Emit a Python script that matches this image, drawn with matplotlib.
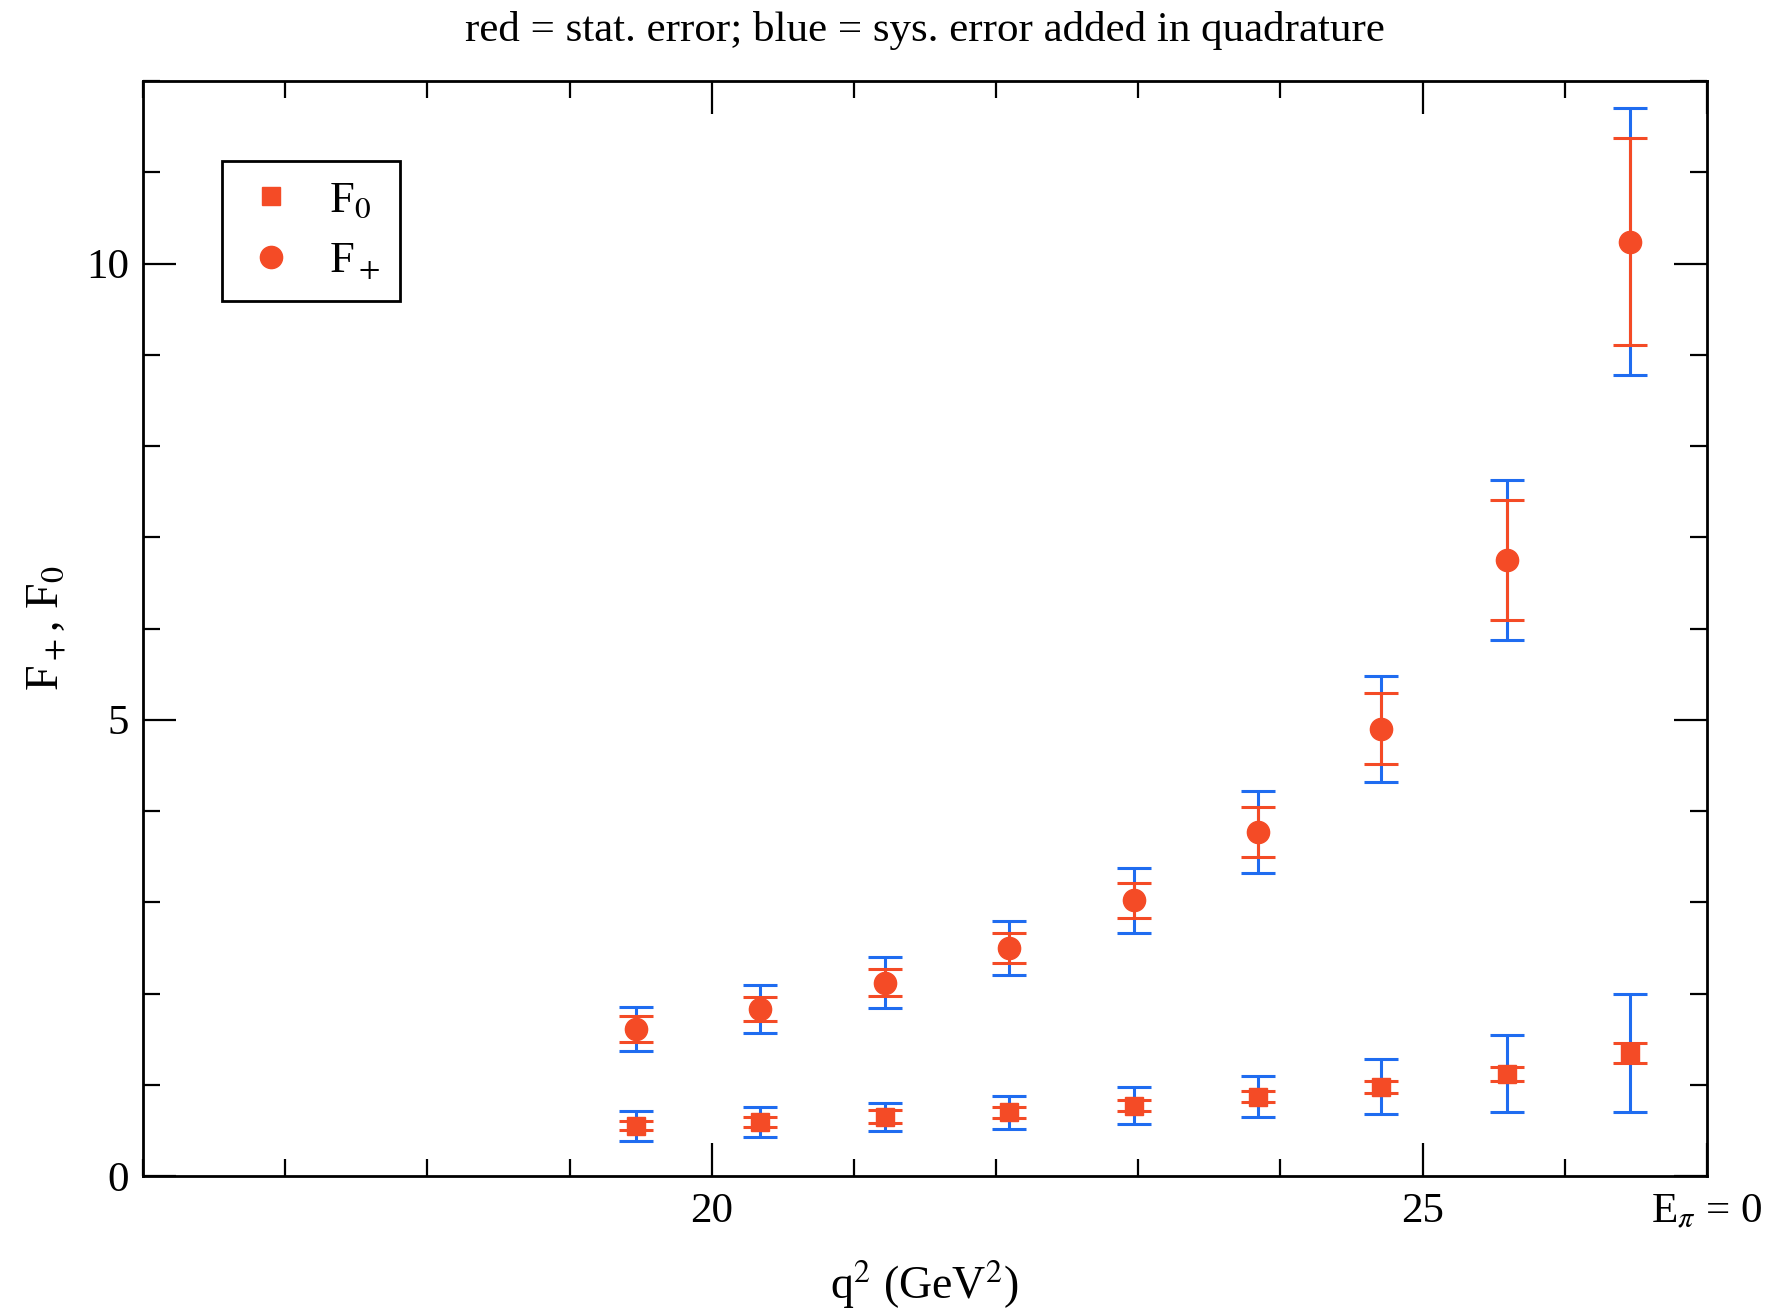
import numpy as np
import matplotlib
matplotlib.use('Agg')
from matplotlib import pyplot as plt
from matplotlib.ticker import FixedLocator, MultipleLocator

plt.rcParams['font.family'] = ['Liberation Serif', 'DejaVu Serif']
plt.rcParams['mathtext.fontset'] = 'stix'

# q^2 positions and form factor values
q2 = [19.47, 20.34, 21.22, 22.09, 22.97, 23.84, 24.71, 25.59, 26.46]
fplus = [1.61, 1.83, 2.12, 2.50, 3.02, 3.77, 4.90, 6.75, 10.24]
fplus_stat = [0.14, 0.135, 0.15, 0.165, 0.19, 0.27, 0.39, 0.66, 1.13]
fplus_tot = [0.24, 0.26, 0.28, 0.30, 0.36, 0.45, 0.58, 0.88, 1.46]
f0 = [0.55, 0.59, 0.65, 0.70, 0.77, 0.87, 0.98, 1.12, 1.35]
f0_stat = [0.05, 0.055, 0.07, 0.06, 0.06, 0.06, 0.065, 0.075, 0.11]
f0_tot = [0.165, 0.165, 0.155, 0.18, 0.20, 0.225, 0.30, 0.42, 0.65]

xtick_vals = [20, 25, 27]
xtick_labels = ['20', '25', r'E$_{\pi}$ = 0']

red = '#f44b26'
blue = '#1f6cf0'

fig = plt.figure(figsize=(17.7, 13.12), dpi=100)
ax = fig.add_axes([143/1770, 1 - 1176/1312, (1707-143)/1770, (1176-81)/1312])

# blue: total error (behind), red: stat error + markers
ax.errorbar(q2, fplus, yerr=fplus_tot, fmt='none', ecolor=blue, elinewidth=2.2,
            capsize=12, capthick=2.2, zorder=2)
ax.errorbar(q2, f0, yerr=f0_tot, fmt='none', ecolor=blue, elinewidth=2.2,
            capsize=12, capthick=2.2, zorder=2)
ax.errorbar(q2, f0, yerr=f0_stat, fmt='s', color=red, ms=13.5, ecolor=red,
            elinewidth=2.2, capsize=12, capthick=2.2, zorder=3)
ax.errorbar(q2, fplus, yerr=fplus_stat, fmt='o', color=red, ms=16, ecolor=red,
            elinewidth=2.2, capsize=12, capthick=2.2, zorder=3)

ax.set_xlim(16, 27)
ax.set_ylim(0, 12)

ax.xaxis.set_major_locator(FixedLocator(xtick_vals))
ax.set_xticklabels(xtick_labels)
ax.xaxis.set_minor_locator(MultipleLocator(1))
ax.yaxis.set_major_locator(MultipleLocator(5))
ax.yaxis.set_minor_locator(MultipleLocator(1))
ax.tick_params(which='both', direction='in', top=True, right=True, width=1.6)
ax.tick_params(which='major', length=24, labelsize=31)
ax.tick_params(which='minor', length=12)
ax.tick_params(axis='x', which='major', pad=12)
ax.tick_params(axis='y', which='major', pad=10)
for s in ax.spines.values():
    s.set_linewidth(2)

ax.set_xlabel(r'q$^2$ (GeV$^2$)', fontsize=33, labelpad=20)
ax.set_ylabel(r'F$_+$, F$_0$', fontsize=33, labelpad=13)

fig.text((143 + 1707) / 2 / 1770, 1 - 30/1312,
         'red = stat. error; blue = sys. error added in quadrature',
         ha='center', va='center', fontsize=31)

# legend (marker only, no error bars)
h1, = ax.plot([], [], 's', color=red, ms=13.5)
h2, = ax.plot([], [], 'o', color=red, ms=16)
leg = ax.legend([h1, h2], ['F$_0$', 'F$_+$'], loc='upper left',
                bbox_to_anchor=(0.0505, 0.927), borderaxespad=0, fontsize=32,
                fancybox=False, edgecolor='black', framealpha=1,
                handlelength=1.3, handletextpad=0.65, borderpad=0.45,
                labelspacing=0.45)
leg.get_frame().set_linewidth(2)

fig.savefig('out.png', dpi=100)
